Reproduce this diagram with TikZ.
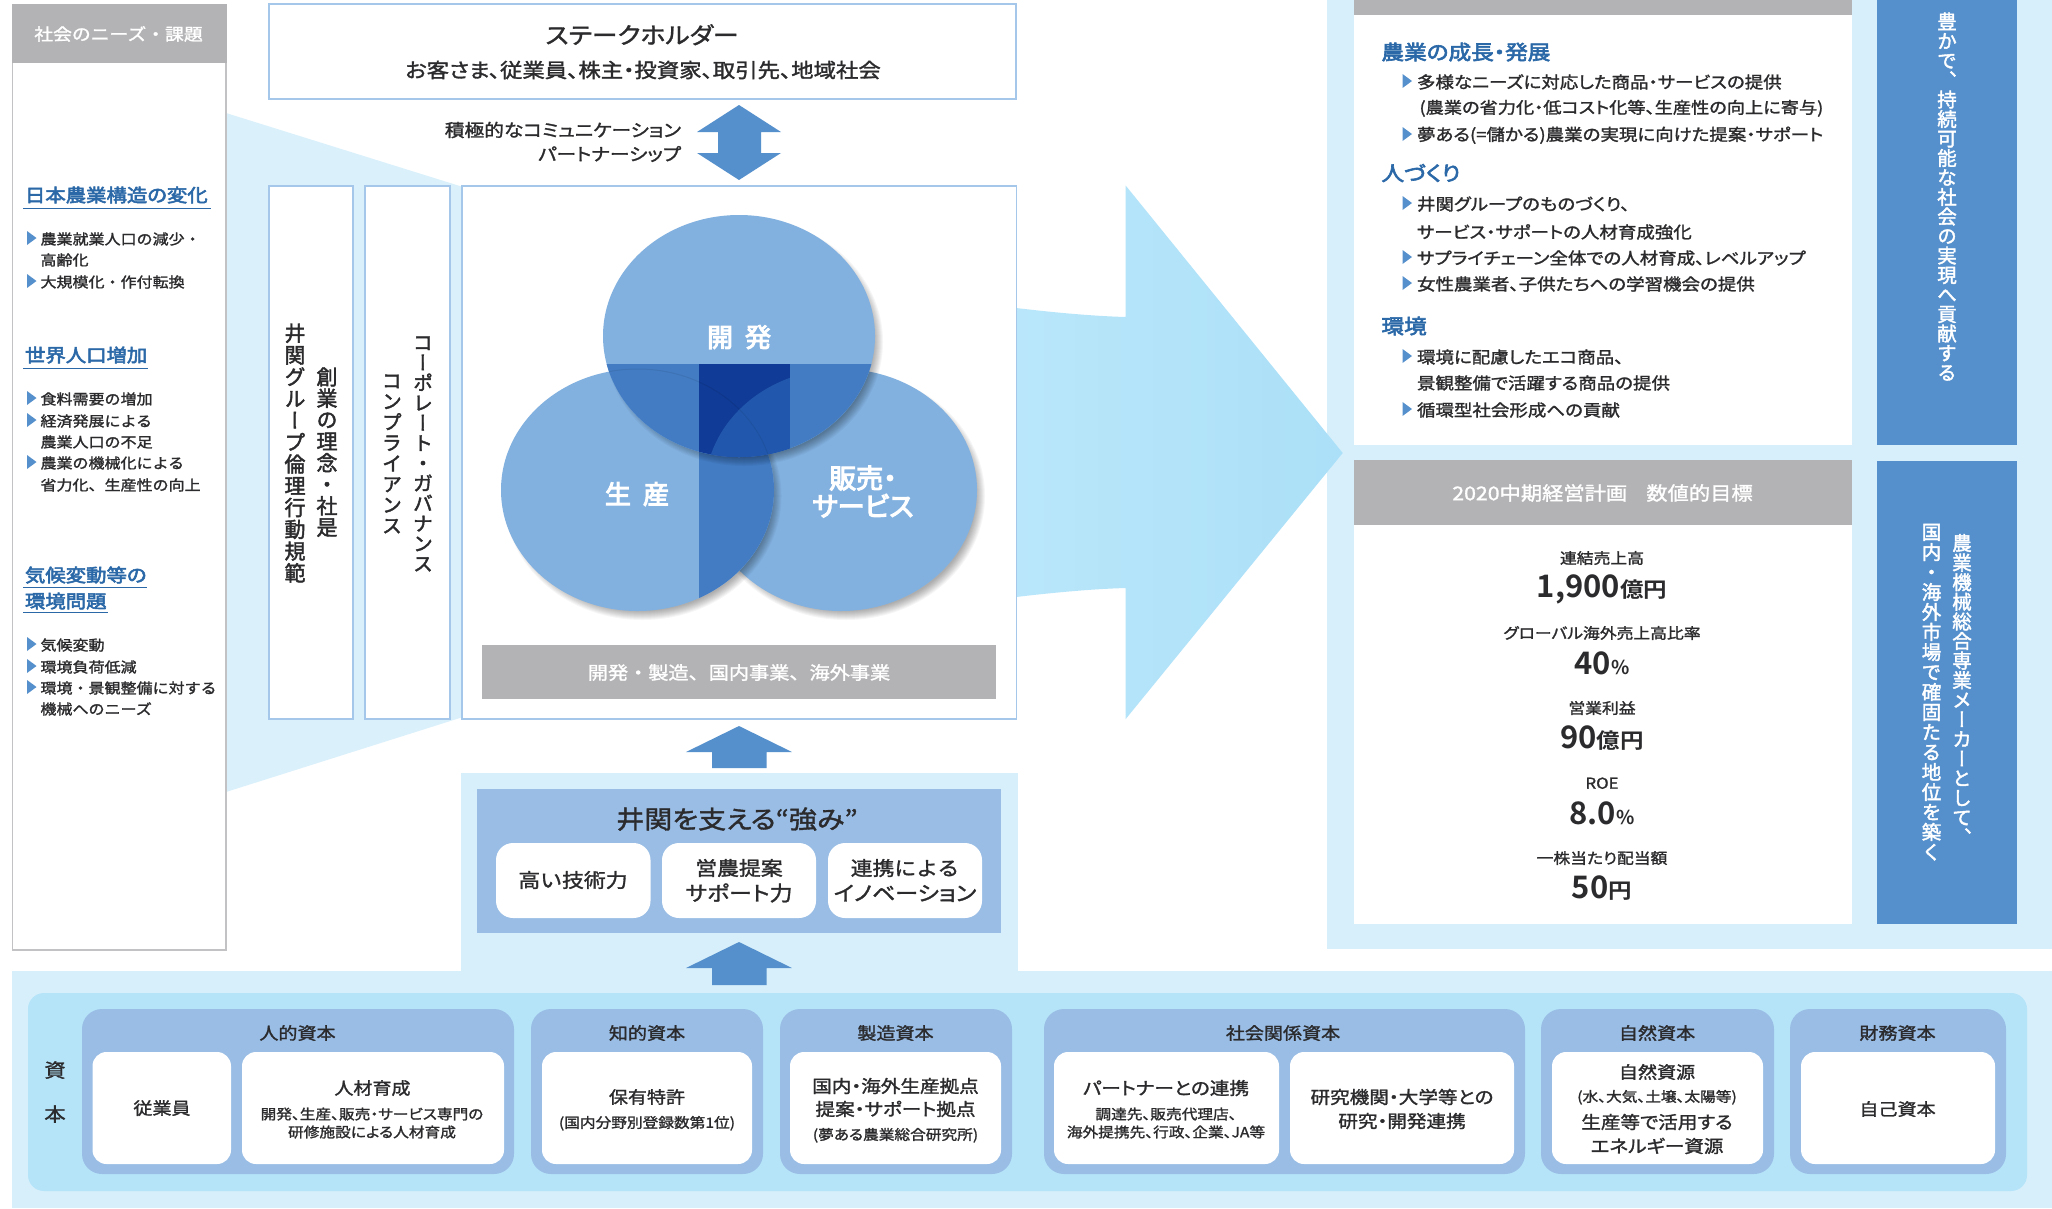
\documentclass[tikz,border=0pt]{standalone}
\usepackage{fontspec}
\setmainfont{Noto Sans CJK JP}
\newfontfamily\jp[FakeStretch=1.12,FakeBold=1.5,RawFeature=+palt]{Noto Sans CJK JP}
\newfontfamily\jpf[FakeStretch=1.12,FakeBold=1.5]{Noto Sans CJK JP}
\newfontfamily\jpm[FakeStretch=1.12,FakeBold=3,RawFeature=+palt]{Noto Sans CJK JP}
\newfontfamily\jpb[FakeStretch=1.12,RawFeature=+palt,BoldFont={Noto Sans CJK JP Bold}]{Noto Sans CJK JP}
\newfontfamily\jpn[BoldFont={Noto Sans CJK JP Bold}]{Noto Sans CJK JP}
\newfontfamily\jpu[FakeBold=4,RawFeature=+palt]{Noto Sans CJK JP}
\newfontfamily\jpv[RawFeature=+vert,FakeBold=2]{Noto Sans CJK JP}
\definecolor{barblue}{HTML}{5590CC}
\definecolor{palebg}{HTML}{D6EFFB}
\definecolor{midbg}{HTML}{B5E4F9}
\definecolor{groupblue}{HTML}{99BDE5}
\definecolor{greybar}{HTML}{B3B3B5}
\definecolor{edgeblue}{HTML}{A5C8EA}
\definecolor{headblue}{HTML}{2A68A8}
\definecolor{ink}{HTML}{2B2B2D}
\definecolor{circlebase}{HTML}{82B1E0}
\definecolor{circledark}{HTML}{437CC3}
\definecolor{circlenavy}{HTML}{103B96}
\definecolor{circlemid}{HTML}{2158AD}
\definecolor{arrowleft}{HTML}{B9E6FA}
\definecolor{arrowright}{HTML}{ABE0F8}
\newcommand\fs[1]{\fontsize{#1}{#1}\selectfont\vrule width 0pt height .88em depth .12em\relax}
\newcount\tn
\newcommand\tlabel[4][]{\global\advance\tn by 1
  \node[txt,#1] (t\the\tn) at (#2,#3) {#4};}
\newcommand\bul[2]{\fill[barblue] (#1,#2-7) -- (#1+9.5,#2) -- (#1,#2+7) -- cycle;}
\newdimen\vstep \newdimen\vwid
\def\vcharsA#1{\ifx#1\relax\else\vbox to \vstep{\vss\hbox to \vwid{\hss\vrule width 0pt height .88em depth .12em\relax#1\hss}\vss}\expandafter\vcharsA\fi}
\newcommand\vt[3]{\hbox{\vbox{\offinterlineskip\jpv\fontsize{#1}{#1}\selectfont\vstep=#2pt\vwid=1em\vcharsA#3\relax}}}
\newcommand\circshadow[2]{\foreach \k in {0,...,9}{\fill[black,opacity=.035] (#1+5,#2+6) ellipse [x radius=139-\k*1.0, y radius=124-\k*1.0];}}
\tikzset{
  txt/.style={inner sep=0pt,outer sep=0pt,text=ink},
  lt/.style={anchor=west},
  rt/.style={anchor=east},
  wtxt/.style={text=white},
  hd/.style={text=headblue},
  boxedge/.style={draw=edgeblue,line width=1.4pt,fill=white},
  uline/.style={draw=headblue,line width=1pt},
  arrowfill/.style={fill=barblue},
  whitebox/.style={fill=white,rounded corners=14pt},
  groupbox/.style={fill=groupblue,rounded corners=20pt},
}
\begin{document}
\begin{tikzpicture}[x=1pt,y=-1pt]
\useasboundingbox (0,0) rectangle (2052,1208);
\fill[white] (0,0) rectangle (2052,1208);
% backgrounds
\fill[palebg] (1327,0) rectangle (2052,949);
\fill[palebg] (12,971) rectangle (2052,1208);
\fill[palebg] (461,773) rectangle (1018,971);
\fill[palebg!90!white] (226,113) -- (463,187) -- (463,717) -- (226,792) -- cycle;
% left panel
\fill[white,draw=greybar!80!white,line width=1.3pt] (12.5,62) rectangle (226,950);
\fill[greybar] (12,4) rectangle (226.5,63);
\tlabel[wtxt]{118.5}{34}{\jpf\fs{16.8}社会のニーズ・課題}
\tlabel[lt,hd]{25}{195}{\jpm\fs{18.2}日本農業構造の変化}
\draw[uline] (23,208) -- (211,208);
\bul{27}{238}\bul{27}{281}
\tlabel[lt]{40.5}{239}{\jpf\fs{14.3}農業就業人口の減少・}
\tlabel[lt]{40.5}{260}{\jpf\fs{14.3}高齢化}
\tlabel[lt]{40.5}{282}{\jpf\fs{14.3}大規模化・作付転換}
\tlabel[lt,hd]{25}{355}{\jpm\fs{18.2}世界人口増加}
\draw[uline] (23,368) -- (148,368);
\bul{27}{398}\bul{27}{420}\bul{27}{462}
\tlabel[lt]{40.5}{399}{\jpf\fs{14.3}食料需要の増加}
\tlabel[lt]{40.5}{421}{\jpf\fs{14.3}経済発展による}
\tlabel[lt]{40.5}{442}{\jpf\fs{14.3}農業人口の不足}
\tlabel[lt]{40.5}{463}{\jpf\fs{14.3}農業の機械化による}
\tlabel[lt]{40.5}{485}{\jpf\fs{14.3}省力化、生産性の向上}
\tlabel[lt,hd]{25}{575}{\jpm\fs{18.2}気候変動等の}
\draw[uline] (23,587) -- (147,587);
\tlabel[lt,hd]{25}{601}{\jpm\fs{18.2}環境問題}
\draw[uline] (23,612) -- (108,612);
\bul{27}{644}\bul{27}{666}\bul{27}{687}
\tlabel[lt]{40.5}{645}{\jpf\fs{14.3}気候変動}
\tlabel[lt]{40.5}{667}{\jpf\fs{14.3}環境負荷低減}
\tlabel[lt]{40.5}{688}{\jpf\fs{14.3}環境・景観整備に対する}
\tlabel[lt]{40.5}{709}{\jpf\fs{14.3}機械へのニーズ}
% stakeholder
\draw[boxedge] (269,4) rectangle (1016,99);
\tlabel{642}{35}{\jp\fs{23}ステークホルダー}
\tlabel{643}{70}{\jp\fs{20}お客さま、従業員、株主・投資家、取引先、地域社会}
\fill[arrowfill] (739,105) -- (781,132) -- (761,132) -- (761,153) -- (781,153) -- (739,180) -- (697,153) -- (718,153) -- (718,132) -- (697,132) -- cycle;
\tlabel[rt]{681}{130}{\jp\fs{17.6}積極的なコミュニケーション}
\tlabel[rt]{681}{154}{\jp\fs{17.6}パートナーシップ}
% columns
\draw[boxedge] (269,186) rectangle (353,719);
\draw[boxedge] (365,186) rectangle (450,719);
\tlabel{327}{452}{\vt{21}{21.5}{創業の理念・社是}}
\tlabel{295}{453}{\vt{21}{21.8}{井関グループ倫理行動規範}}
\tlabel{423}{453}{\vt{20}{20.1}{コーポレート・ガバナンス}}
\tlabel{392}{453}{\vt{20}{20.7}{コンプライアンス}}
% big arrow
\shade[left color=arrowleft,right color=arrowright] (1016,308) .. controls (1050,312) and (1090,316) .. (1125.7,317) -- (1125.7,185.6) -- (1342.7,453) -- (1125.7,719) -- (1125.7,588) .. controls (1090,589) and (1050,593) .. (1016,597) -- cycle;
% main box
\draw[boxedge] (462,186) rectangle (1016.5,719);
% venn
\circshadow{841}{490}
\fill[circlebase] (841,490) ellipse [x radius=136, y radius=121];
\circshadow{637.5}{490}
\fill[circlebase] (637.5,490) ellipse [x radius=136.5, y radius=121];
\begin{scope}
\clip (637.5,490) ellipse [x radius=136.5, y radius=121];
\fill[circledark] (699,360) rectangle (780,620);
\end{scope}
\circshadow{739}{336}
\fill[circlebase] (739,336) ellipse [x radius=136, y radius=121];
\begin{scope}
\clip (739,336) ellipse [x radius=136, y radius=121];
\fill[circledark] (600,364) rectangle (880,460);
\fill[circlenavy] (699,364) rectangle (790,460);
\clip (841,490) ellipse [x radius=136, y radius=121];
\fill[circlemid] (699,364) rectangle (790,460);
\end{scope}
\begin{scope}
\clip (739,336) ellipse [x radius=136, y radius=121];
\clip (600,364) rectangle (880,460);
\draw[black,opacity=.07,line width=1pt] (637.5,490) ellipse [x radius=136.5, y radius=121];
\end{scope}
\tlabel[wtxt]{739}{337}{\jpu\fs{26}開\hspace{12pt}発}
\tlabel[wtxt]{637}{494}{\jpu\fs{26}生\hspace{12pt}産}
\tlabel[wtxt]{863}{478}{\jpu\fs{27}販売・}
\tlabel[wtxt]{863}{506}{\jpu\fs{27}サービス}
\fill[greybar] (482,645) rectangle (995.5,699);
\tlabel[wtxt]{739}{672.5}{\jpf\fs{18}開発・製造、国内事業、海外事業}
% up arrows
\fill[arrowfill] (739,726) -- (792,752) -- (766.5,752) -- (766.5,768) -- (712,768) -- (712,752) -- (686,752) -- cycle;
% strengths
\fill[groupblue] (477,789) rectangle (1000.5,933);
\tlabel{737}{819}{\jp\fs{25}井関を支える“強み”}
\fill[whitebox,rounded corners=17pt] (496,843) rectangle (650.5,918);
\fill[whitebox,rounded corners=17pt] (662,843) rectangle (816,918);
\fill[whitebox,rounded corners=17pt] (828,843) rectangle (982,918);
\tlabel{573}{880}{\jpf\fs{19.5}高い技術力}
\tlabel{739}{868}{\jpf\fs{19.5}営農提案}
\tlabel{739}{893}{\jp\fs{20.5}サポート力}
\tlabel{905}{868}{\jpf\fs{19.5}連携による}
\tlabel{905}{893}{\jp\fs{20.5}イノベーション}
\fill[arrowfill] (739,942) -- (792,968) -- (766.5,968) -- (766.5,985) -- (712,985) -- (712,968) -- (686,968) -- cycle;
% right panels
\fill[white] (1354,0) rectangle (1852,445);
\fill[greybar] (1354,0) rectangle (1852,15);
\fill[white] (1354,460) rectangle (1852,924);
\fill[greybar] (1354,460) rectangle (1852,525);
\fill[barblue] (1877,0) rectangle (2017,445);
\fill[barblue] (1877,461) rectangle (2017,924);
\tlabel[wtxt]{1947}{197}{\vt{19.5}{19.5}{豊かで、持続可能な社会の実現へ貢献する}}
\tlabel[wtxt]{1962}{690}{\vt{19.5}{19.6}{農業機械総合専業メーカーとして、}}
\tlabel[wtxt]{1931.5}{692}{\vt{19.5}{20}{国内・海外市場で確固たる地位を築く}}
\tlabel[lt,hd]{1381.5}{52}{\jpm\fs{20.2}農業の成長・発展}
\bul{1402.5}{81}\bul{1402.5}{134}
\tlabel[lt]{1417}{82}{\jp\fs{16.5}多様なニーズに対応した商品・サービスの提供}
\tlabel[lt]{1419.5}{108}{\jp\fs{16.25}(農業の省力化・低コスト化等、生産性の向上に寄与)}
\tlabel[lt]{1417}{135}{\jp\fs{16.5}夢ある(=儲かる)農業の実現に向けた提案・サポート}
\tlabel[lt,hd]{1381.5}{173}{\jpm\fs{20.2}人づくり}
\bul{1402.5}{203}\bul{1402.5}{257}\bul{1402.5}{283}
\tlabel[lt]{1417}{204}{\jp\fs{16.5}井関グループのものづくり、}
\tlabel[lt]{1417}{232}{\jp\fs{16.5}サービス・サポートの人材育成強化}
\tlabel[lt]{1417}{258}{\jp\fs{16.5}サプライチェーン全体での人材育成、レベルアップ}
\tlabel[lt]{1417}{284}{\jp\fs{16.5}女性農業者、子供たちへの学習機会の提供}
\tlabel[lt,hd]{1381.5}{326}{\jpm\fs{20.2}環境}
\bul{1402.5}{356}\bul{1402.5}{409}
\tlabel[lt]{1417}{357}{\jp\fs{16.5}環境に配慮したエコ商品、}
\tlabel[lt]{1417}{383}{\jp\fs{16.5}景観整備で活躍する商品の提供}
\tlabel[lt]{1417}{410}{\jp\fs{16.5}循環型社会形成への貢献}
\tlabel[wtxt]{1602.5}{493}{\jp\fs{19}2020中期経営計画\ \ \ \ 数値的目標}
\tlabel{1602}{558}{\jp\fs{15}連結売上高}
\tlabel{1602}{587}{\jpn\fs{31}\textbf{1,900}\jpb\fontsize{21}{21}\selectfont\textbf{億円}}
\tlabel{1602}{633}{\jp\fs{15}グローバル海外売上高比率}
\tlabel{1602}{663}{\jpn\fs{31}\textbf{40}\fontsize{19}{19}\selectfont\textbf{\%}}
\tlabel{1602}{708}{\jp\fs{15}営業利益}
\tlabel{1602}{737}{\jpn\fs{31}\textbf{90}\jpb\fontsize{21}{21}\selectfont\textbf{億円}}
\tlabel{1602}{783}{\jp\fs{15}ROE}
\tlabel{1602}{813}{\jpn\fs{31}\textbf{8.0}\fontsize{19}{19}\selectfont\textbf{\%}}
\tlabel{1602}{858}{\jp\fs{15}一株当たり配当額}
\tlabel{1602}{887}{\jpn\fs{31}\textbf{50}\jpb\fontsize{21}{21}\selectfont\textbf{円}}
% capital band
\fill[midbg,rounded corners=16pt] (28,993) rectangle (2027,1191);
\tlabel{55}{1070}{\jpf\fs{19}資}
\tlabel{55}{1114}{\jpf\fs{19}本}
\fill[groupbox] (82,1009) rectangle (514,1174);
\fill[groupbox] (531,1009) rectangle (763,1174);
\fill[groupbox] (780,1009) rectangle (1012,1174);
\fill[groupbox] (1044,1009) rectangle (1525,1174);
\fill[groupbox] (1541,1009) rectangle (1774,1174);
\fill[groupbox] (1790,1009) rectangle (2006,1174);
\fill[whitebox] (92.5,1052) rectangle (231,1164);
\fill[whitebox] (242,1052) rectangle (504,1164);
\fill[whitebox] (542,1052) rectangle (752,1164);
\fill[whitebox] (790,1052) rectangle (1001,1164);
\fill[whitebox] (1054,1052) rectangle (1279,1164);
\fill[whitebox] (1290,1052) rectangle (1514,1164);
\fill[whitebox] (1552,1052) rectangle (1763,1164);
\fill[whitebox] (1801,1052) rectangle (1995,1164);
\tlabel{297.5}{1033}{\jpf\fs{17}人的資本}
\tlabel{647}{1033}{\jpf\fs{17}知的資本}
\tlabel{895.5}{1033}{\jpf\fs{17}製造資本}
\tlabel{1283}{1033}{\jpf\fs{17}社会関係資本}
\tlabel{1657}{1033}{\jpf\fs{17}自然資本}
\tlabel{1897.5}{1033}{\jpf\fs{17}財務資本}
\tlabel{162}{1108}{\jpf\fs{17}従業員}
\tlabel{372.5}{1088}{\jpf\fs{17}人材育成}
\tlabel{372}{1114}{\jp\fs{14}開発、生産、販売・サービス専門の}
\tlabel{372}{1132}{\jp\fs{14}研修施設による人材育成}
\tlabel{647}{1097}{\jpf\fs{17}保有特許}
\tlabel{647}{1123}{\jp\fs{14}(国内分野別登録数第1位)}
\tlabel{895.5}{1086}{\jp\fs{17.5}国内・海外生産拠点}
\tlabel{895.5}{1109}{\jp\fs{17.5}提案・サポート拠点}
\tlabel{895.5}{1135}{\jp\fs{14}(夢ある農業総合研究所)}
\tlabel{1166}{1088}{\jp\fs{17.5}パートナーとの連携}
\tlabel{1166}{1114}{\jp\fs{14}調達先、販売代理店、}
\tlabel{1166}{1132}{\jp\fs{14}海外提携先、行政、企業、JA等}
\tlabel{1402}{1097}{\jp\fs{17.5}研究機関・大学等との}
\tlabel{1402}{1121}{\jp\fs{17.5}研究・開発連携}
\tlabel{1657}{1072}{\jpf\fs{17}自然資源}
\tlabel{1657}{1097}{\jp\fs{14}(水、大気、土壌、太陽等)}
\tlabel{1657}{1122}{\jp\fs{17.5}生産等で活用する}
\tlabel{1657}{1146}{\jp\fs{17.5}エネルギー資源}
\tlabel{1897.5}{1109}{\jpf\fs{17}自己資本}
\end{tikzpicture}
\end{document}
